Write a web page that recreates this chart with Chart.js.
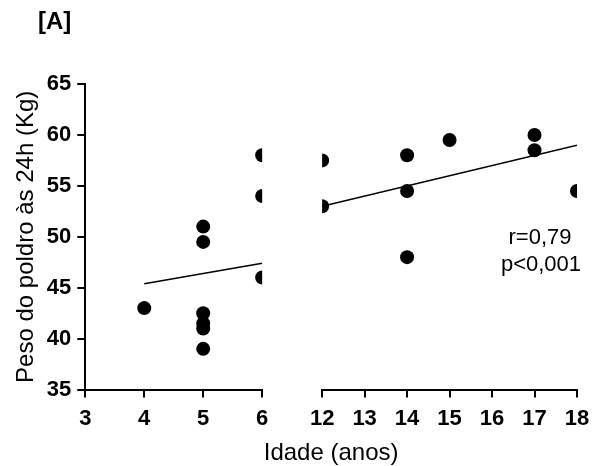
<!DOCTYPE html>
<html>
<head>
<meta charset="utf-8">
<script src="https://cdn.jsdelivr.net/npm/chart.js@4/dist/chart.umd.min.js"></script>
<style>
  html, body { margin: 0; padding: 0; background: #fff; }
  #wrap { width: 592px; height: 466px; }
</style>
</head>
<body>
<div id="wrap"><canvas id="pesoChart"></canvas></div>
<script>
// idade (anos) x peso do poldro, split into the two axis segments
const leftAge = [4, 5, 5, 5, 5, 5, 5, 6, 6, 6];
const leftWeight = [43.0, 51.0, 49.5, 42.5, 41.5, 41.0, 39.0, 58.0, 54.0, 46.0];
const rightAge = [12, 12, 14, 14, 14, 15, 17, 17, 18];
const rightWeight = [57.5, 53.0, 58.0, 54.5, 48.0, 59.5, 60.0, 58.5, 54.5];

// fitted lines (ends)
const leftLineX = [4, 6];
const leftLineY = [45.4, 47.4];
const rightLineX = [12, 18];
const rightLineY = [53.0, 59.0];

const leftTicks = [3, 4, 5, 6];
const rightTicks = [12, 13, 14, 15, 16, 17, 18];
const yTicks = [35, 40, 45, 50, 55, 60, 65];

const statsText = ["r=0,79", "p<0,001"];
const FONT = 'Arial, "Liberation Sans", sans-serif';

const toPoints = (xs, ys) => xs.map((x, i) => ({ x: x, y: ys[i] }));

// panel letter, x title and r/p text
const extraText = {
  id: "extraText",
  afterDraw(chart) {
    const { ctx, chartArea } = chart;
    ctx.save();
    ctx.fillStyle = "#000";
    ctx.textBaseline = "middle";
    ctx.font = "bold 24px " + FONT;
    ctx.textAlign = "left";
    ctx.fillText("[A]", 38, 22);
    ctx.font = "24px " + FONT;
    ctx.textAlign = "center";
    ctx.fillText("Idade (anos)", (chartArea.left + chartArea.right) / 2, 453);
    ctx.font = "22px " + FONT;
    ctx.fillText(statsText[0], 540, 238);
    ctx.fillText(statsText[1], 541, 265);
    ctx.restore();
  },
};

const axisBits = {
  grid: { drawOnChartArea: false, color: "#000", lineWidth: 2, tickLength: 8 },
  border: { color: "#000", width: 2 },
};
const tickFont = { family: FONT, size: 22, weight: "bold" };
const xTickOpts = { color: "#000", font: tickFont, padding: 8, maxRotation: 0, autoSkip: false };

const ctx = document.getElementById("pesoChart").getContext("2d");

new Chart(ctx, {
  type: "scatter",
  data: {
    datasets: [
      {
        data: toPoints(leftAge, leftWeight),
        xAxisID: "x1",
        backgroundColor: "#000",
        borderWidth: 0,
        pointRadius: 7,
      },
      {
        data: toPoints(rightAge, rightWeight),
        xAxisID: "x2",
        backgroundColor: "#000",
        borderWidth: 0,
        pointRadius: 7,
      },
      {
        type: "line",
        data: toPoints(leftLineX, leftLineY),
        xAxisID: "x1",
        borderColor: "#000",
        borderWidth: 1.5,
        pointRadius: 0,
      },
      {
        type: "line",
        data: toPoints(rightLineX, rightLineY),
        xAxisID: "x2",
        borderColor: "#000",
        borderWidth: 1.5,
        pointRadius: 0,
      },
    ],
  },
  plugins: [extraText],
  options: {
    responsive: true,
    maintainAspectRatio: false,
    animation: false,
    layout: { padding: { top: 84, right: 6, bottom: 26, left: 4 } },
    plugins: { legend: { display: false }, tooltip: { enabled: false } },
    scales: {
      x1: {
        type: "linear",
        position: "bottom",
        stack: "age",
        stackWeight: 177,
        min: 3,
        max: 6,
        afterBuildTicks: (s) => { s.ticks = leftTicks.map((v) => ({ value: v })); },
        afterFit: (s) => { s.paddingRight = 0; },
        ticks: xTickOpts,
        ...axisBits,
      },
      xgap: {
        type: "linear",
        position: "bottom",
        stack: "age",
        stackWeight: 60,
        min: 0,
        max: 1,
        grid: { display: false },
        border: { display: false },
        ticks: { display: false },
      },
      x2: {
        type: "linear",
        position: "bottom",
        stack: "age",
        stackWeight: 255,
        min: 12,
        max: 18,
        afterBuildTicks: (s) => { s.ticks = rightTicks.map((v) => ({ value: v })); },
        afterFit: (s) => { s.paddingRight = 15; s.paddingLeft = 0; },
        ticks: xTickOpts,
        ...axisBits,
      },
      y: {
        min: 35,
        max: 65,
        afterBuildTicks: (s) => { s.ticks = yTicks.map((v) => ({ value: v })); },
        ticks: { color: "#000", font: tickFont, padding: 6 },
        title: {
          display: true,
          text: "Peso do poldro às 24h (Kg)",
          color: "#000",
          font: { family: FONT, size: 24 },
          padding: { top: 8, bottom: 0 },
        },
        ...axisBits,
      },
    },
  },
});
</script>
</body>
</html>
